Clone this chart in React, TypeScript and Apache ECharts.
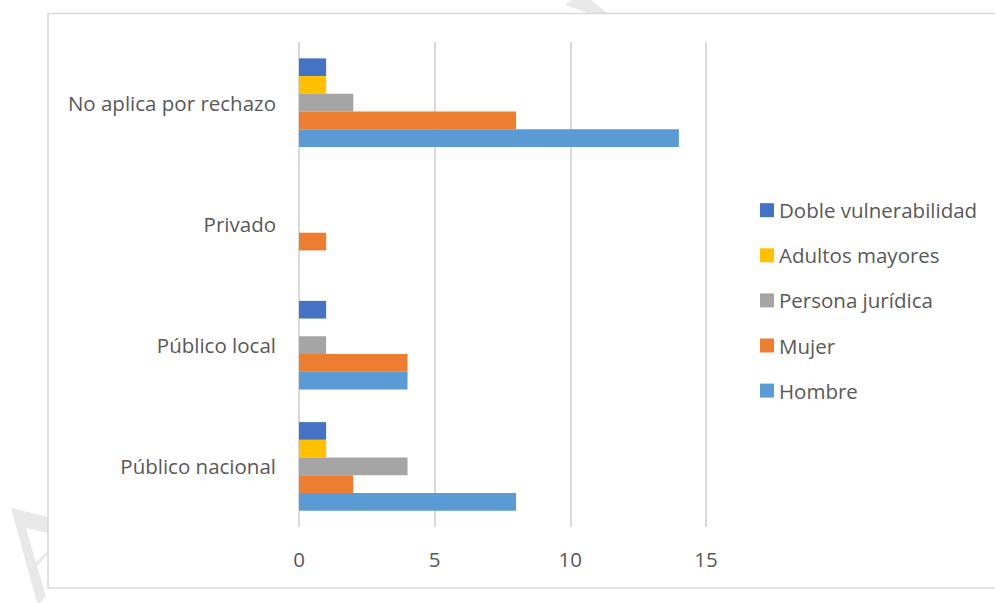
import React, { useEffect, useRef } from "react";
import * as echarts from "echarts";

const categories = ["Público nacional", "Público local", "Privado", "No aplica por rechazo"];
const seriesNames = ["Hombre", "Mujer", "Persona jurídica", "Adultos mayores", "Doble vulnerabilidad"];
const hombre = [8, 4, 0, 14];
const mujer = [2, 4, 1, 8];
const personaJuridica = [4, 1, 0, 2];
const adultosMayores = [1, 0, 0, 1];
const dobleVulnerabilidad = [1, 1, 0, 1];
const colors = ["#5B9BD5", "#ED7D31", "#A5A5A5", "#FFC000", "#4472C4"];
const legendOrder = ["Doble vulnerabilidad", "Adultos mayores", "Persona jurídica", "Mujer", "Hombre"];
const xTicks = [0, 5, 10, 15];

export default function App() {
  const ref = useRef<HTMLDivElement>(null);
  useEffect(() => {
    if (!ref.current) return;
    const chart = echarts.init(ref.current, null, { renderer: "svg" });
    const values = [hombre, mujer, personaJuridica, adultosMayores, dobleVulnerabilidad];
    const font = "'Open Sans', sans-serif";
    const series = seriesNames
      .map((name, i) => ({
        name,
        type: "bar",
        data: values[i],
        itemStyle: { color: colors[i] },
        barGap: "0%",
        barCategoryGap: "27%",
      }))
      .reverse();
    const wm = { fill: "#e8e8e8" };
    chart.setOption({
      animation: false,
      textStyle: { fontFamily: font },
      grid: { left: 299, right: 289, top: 42, bottom: 76, containLabel: false },
      legend: {
        data: legendOrder,
        orient: "vertical",
        left: 760,
        top: 199.7,
        padding: 0,
        itemWidth: 14,
        itemHeight: 14,
        itemGap: 24.1,
        icon: "rect",
        textStyle: { fontSize: 20.5, color: "#595959", fontFamily: font, lineHeight: 20 },
      },
      xAxis: {
        type: "value",
        min: xTicks[0],
        max: xTicks[xTicks.length - 1],
        interval: 5,
        axisLine: { show: false },
        axisTick: { show: false },
        axisLabel: { color: "#595959", fontSize: 20.5, margin: 21, fontFamily: font },
        splitLine: { show: true, lineStyle: { color: "#d9d9d9", width: 2 } },
      },
      yAxis: {
        type: "category",
        data: categories,
        axisLine: { show: false },
        axisTick: { show: false },
        axisLabel: { color: "#595959", fontSize: 20.5, margin: 23, fontFamily: font },
      },
      series,
      graphic: [
        { type: "polygon", silent: true, shape: { points: [[11, 508], [48, 517], [48, 533], [22, 527]] }, style: wm },
        { type: "polygon", silent: true, shape: { points: [[11, 508], [21, 512], [46, 596], [40, 603], [37, 603]] }, style: wm },
        { type: "line", silent: true, shape: { x1: 35, y1: 566, x2: 48, y2: 552 }, style: { stroke: "#e8e8e8", lineWidth: 3 } },
        { type: "polygon", silent: true, shape: { points: [[565, 5], [572, 0], [591, 0], [607, 13], [588, 13]] }, style: wm },
        {
          type: "rect",
          shape: { x: 48, y: 13.5, width: 1000, height: 574.5 },
          style: { fill: "none", stroke: "#d9d9d9", lineWidth: 1.5 },
          silent: true,
        },
      ],
    });
    return () => chart.dispose();
  }, []);
  return (
    <div
      ref={ref}
      style={{ position: "fixed", left: 0, top: 0, width: 995, height: 603, background: "#fff" }}
    />
  );
}
